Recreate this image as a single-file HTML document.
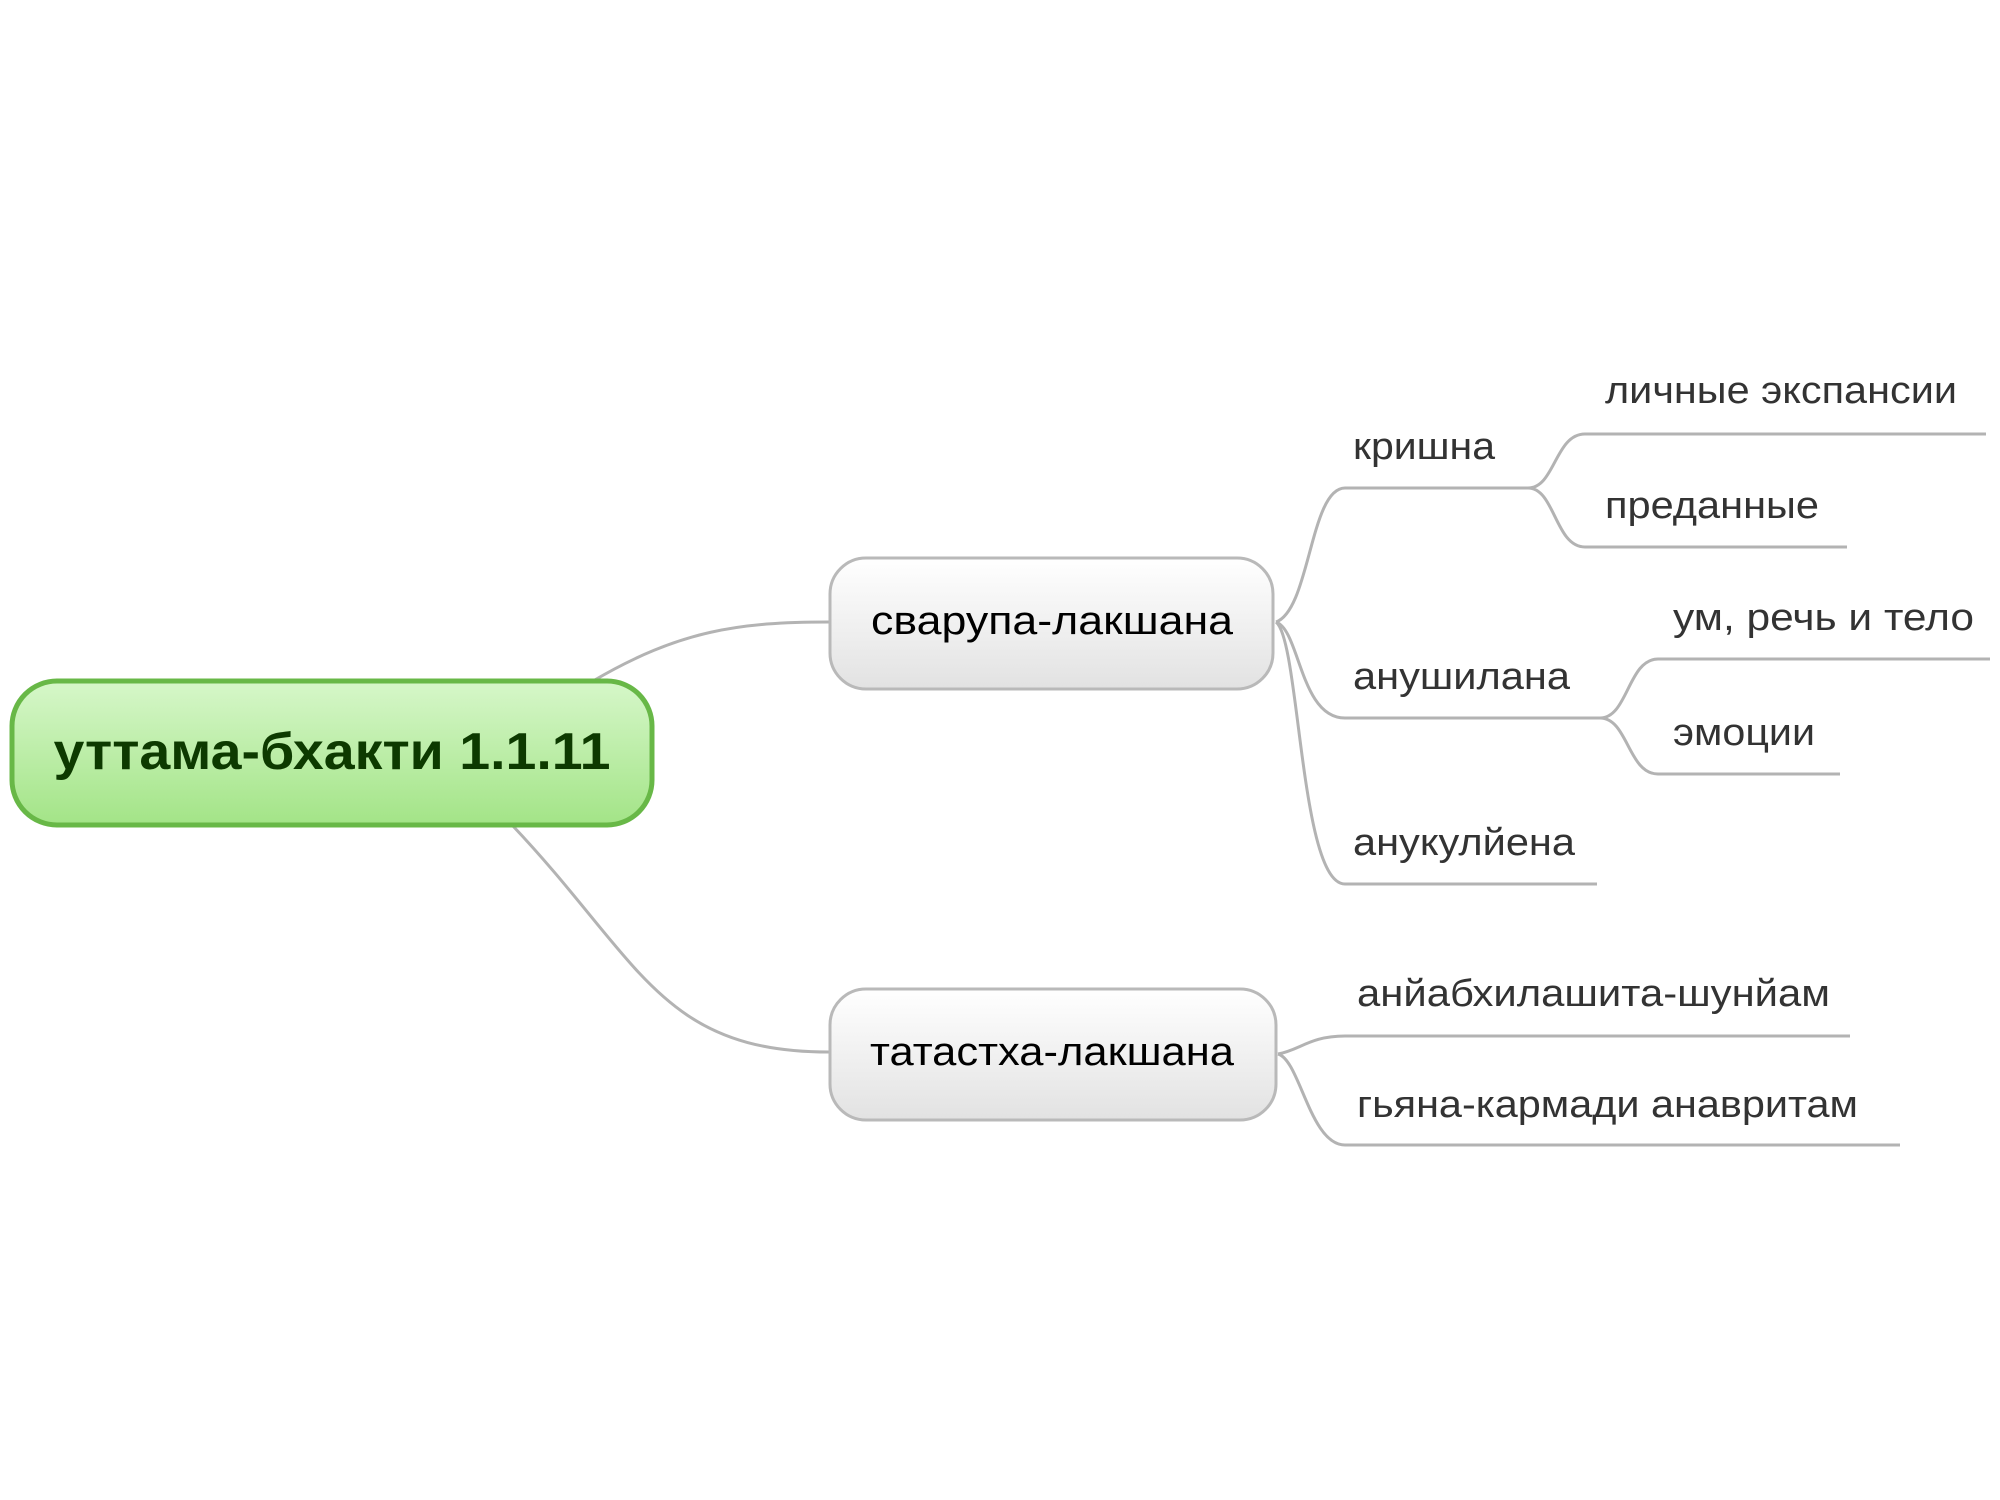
<!DOCTYPE html>
<html><head><meta charset="utf-8"><style>
html,body{margin:0;padding:0;background:#fff;width:2000px;height:1500px;overflow:hidden}
svg{display:block}
text{font-family:"Liberation Sans",sans-serif}
</style></head><body>
<svg width="2000" height="1500" viewBox="0 0 2000 1500" xmlns="http://www.w3.org/2000/svg">
<defs>
<linearGradient id="g" x1="0" y1="0" x2="0" y2="1"><stop offset="0" stop-color="#d6f7c9"/><stop offset="1" stop-color="#a3e487"/></linearGradient>
<linearGradient id="w" x1="0" y1="0" x2="0" y2="1"><stop offset="0" stop-color="#ffffff"/><stop offset="1" stop-color="#e2e2e2"/></linearGradient>
</defs>
<g fill="none" stroke="#b3b3b3" stroke-width="3">
<path d="M593,681 C680,630 740,622 829,622"/>
<path d="M512,825 C640,960 660,1052 829,1052"/>
<path d="M1276,622 C1310,610 1310,488 1345,488 L1528,488"/>
<path d="M1528,488 C1555,488 1555,434 1585,434 L1986,434"/>
<path d="M1528,488 C1555,488 1555,547 1585,547 L1847,547"/>
<path d="M1276,622 C1300,630 1300,718 1345,718 L1600,718"/>
<path d="M1600,718 C1628,718 1628,659 1658,659 L1990,659"/>
<path d="M1600,718 C1628,718 1628,774 1658,774 L1840,774"/>
<path d="M1276,622 C1300,640 1300,884 1345,884 L1597,884"/>
<path d="M1278,1054 C1300,1050 1310,1036 1345,1036 L1850,1036"/>
<path d="M1278,1054 C1300,1060 1310,1145 1345,1145 L1900,1145"/>
</g>
<rect x="12" y="681" width="640" height="144" rx="45" fill="url(#g)" stroke="#68b847" stroke-width="5"/>
<text x="332" y="769" font-size="52" font-weight="bold" fill="#0d3a00" text-anchor="middle" textLength="557" lengthAdjust="spacingAndGlyphs">уттама-бхакти 1.1.11</text>
<rect x="830" y="558" width="443" height="131" rx="36" fill="url(#w)" stroke="#b9b9b9" stroke-width="3"/>
<text x="1052" y="634" font-size="40" fill="#000" text-anchor="middle" textLength="362" lengthAdjust="spacingAndGlyphs">сварупа-лакшана</text>
<rect x="830" y="989" width="446" height="131" rx="36" fill="url(#w)" stroke="#b9b9b9" stroke-width="3"/>
<text x="1052" y="1065" font-size="40" fill="#000" text-anchor="middle" textLength="364" lengthAdjust="spacingAndGlyphs">татастха-лакшана</text>
<g font-size="38" fill="#333">
<text x="1353" y="459" textLength="142" lengthAdjust="spacingAndGlyphs">кришна</text>
<text x="1605" y="403" textLength="352" lengthAdjust="spacingAndGlyphs">личные экспансии</text>
<text x="1605" y="518" textLength="214" lengthAdjust="spacingAndGlyphs">преданные</text>
<text x="1353" y="689" textLength="217" lengthAdjust="spacingAndGlyphs">анушилана</text>
<text x="1673" y="630" textLength="301" lengthAdjust="spacingAndGlyphs">ум, речь и тело</text>
<text x="1673" y="745" textLength="142" lengthAdjust="spacingAndGlyphs">эмоции</text>
<text x="1353" y="855" textLength="222" lengthAdjust="spacingAndGlyphs">анукулйена</text>
<text x="1357" y="1006" textLength="473" lengthAdjust="spacingAndGlyphs">анйабхилашита-шунйам</text>
<text x="1357" y="1117" textLength="501" lengthAdjust="spacingAndGlyphs">гьяна-кармади анавритам</text>
</g>
</svg>
</body></html>
